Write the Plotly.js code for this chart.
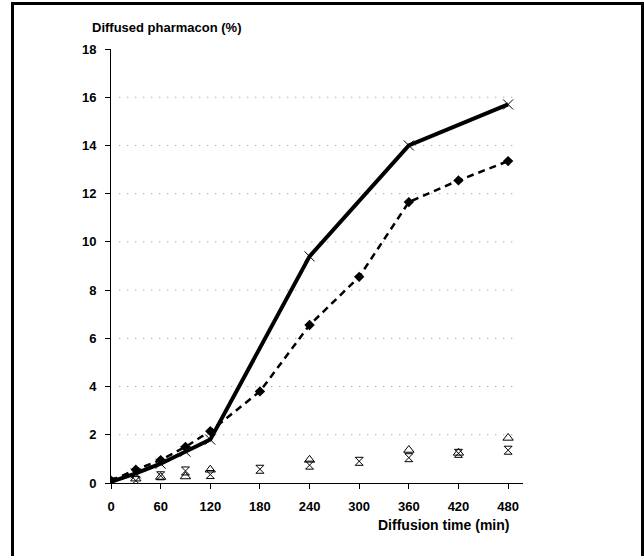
<!DOCTYPE html>
<html>
<head>
<meta charset="utf-8">
<script src="https://cdn.plot.ly/plotly-3.0.1.min.js"></script>
<style>
html,body{margin:0;padding:0;background:#fff;overflow:hidden;}
#chart{width:644px;height:556px;}
#frame{position:absolute;left:11px;top:2px;width:627px;height:600px;border:3px solid #000;pointer-events:none;}
</style>
</head>
<body>
<div id="chart"></div>
<div id="frame"></div>
<script>
// Diffusion time (min)
var timeA = [0, 30, 60, 90, 120, 240, 360, 480];
var seriesA = [0.05, 0.4, 0.8, 1.3, 1.8, 9.4, 14.0, 15.7];

var timeB = [0, 30, 60, 90, 120, 180, 240, 300, 360, 420, 480];
var seriesB = [0.1, 0.55, 0.95, 1.5, 2.15, 3.8, 6.55, 8.55, 11.65, 12.55, 13.35];

var timeC = [30, 60, 90, 120, 240, 360, 420, 480];
var seriesC = [0.18, 0.25, 0.27, 0.55, 0.96, 1.37, 1.25, 1.87];

var timeD = [0, 30, 60, 90, 120, 180, 240, 300, 360, 420, 480];
var seriesD = [0.05, 0.1, 0.3, 0.5, 0.35, 0.57, 0.74, 0.9, 1.05, 1.23, 1.36];

var xTicks = [0, 60, 120, 180, 240, 300, 360, 420, 480];
var yTicks = [0, 2, 4, 6, 8, 10, 12, 14, 16, 18];
var gridVals = [2, 4, 6, 8, 10, 12, 14, 16];

var font = "Arial, 'Liberation Sans', Helvetica, sans-serif";

var traces = [
  {x: timeB, y: seriesB, mode: 'lines+markers', type: 'scatter',
   line: {color: '#000', width: 2.5, dash: '7px,5px'},
   marker: {symbol: 'diamond', size: 8, color: '#000'}},
  {x: timeA, y: seriesA, mode: 'lines+markers', type: 'scatter',
   line: {color: '#000', width: 4},
   marker: {symbol: 'x-thin-open', size: 10, color: '#000', line: {width: 1, color: '#000'}}},
  {x: timeC, y: seriesC, mode: 'markers', type: 'scatter',
   marker: {symbol: 'triangle-up-open', size: 9, color: '#000', line: {width: 1, color: '#000'}}},
  {x: timeD, y: seriesD, mode: 'markers', type: 'scatter',
   marker: {symbol: 'hourglass-open', size: 8, color: '#000', line: {width: 1, color: '#000'}}}
];

var shapes = gridVals.map(function(v){
  return {type: 'line', xref: 'x', yref: 'y', x0: 10, x1: 492, y0: v, y1: v,
          line: {color: '#888', width: 1, dash: '1px,7px'}, layer: 'below'};
});

var layout = {
  width: 644, height: 556,
  margin: {l: 111, r: 121, t: 49, b: 73},
  paper_bgcolor: '#fff', plot_bgcolor: '#fff',
  showlegend: false,
  font: {family: font, color: '#000'},
  xaxis: {
    range: [0, 498], tickvals: xTicks, ticktext: xTicks.map(String),
    showgrid: false, zeroline: false, showline: true, linecolor: '#000', linewidth: 1,
    ticks: 'outside', ticklen: 5, tickcolor: '#000', tickwidth: 1,
    tickfont: {family: font, size: 13, weight: 'bold', color: '#000'},
    ticklabelstandoff: 6
  },
  yaxis: {
    range: [0, 18], tickvals: yTicks, ticktext: yTicks.map(String),
    showgrid: false, zeroline: false, showline: true, linecolor: '#000', linewidth: 1,
    ticks: 'outside', ticklen: 5, tickcolor: '#000', tickwidth: 1,
    tickfont: {family: font, size: 13, weight: 'bold', color: '#000'},
    ticklabelstandoff: 6
  },
  shapes: shapes,
  annotations: [
    {text: 'Diffused pharmacon (%)', xref: 'paper', yref: 'paper', x: -0.051, y: 1.05,
     xanchor: 'left', yanchor: 'middle', showarrow: false,
     font: {family: font, size: 13, weight: 'bold', color: '#000'}},
    {text: 'Diffusion time (min)', xref: 'paper', yref: 'paper', x: 0.971, y: -0.097,
     xanchor: 'right', yanchor: 'middle', showarrow: false,
     font: {family: font, size: 14, weight: 'bold', color: '#000'}}
  ]
};

Plotly.newPlot('chart', traces, layout, {displayModeBar: false, staticPlot: true});
</script>
</body>
</html>
